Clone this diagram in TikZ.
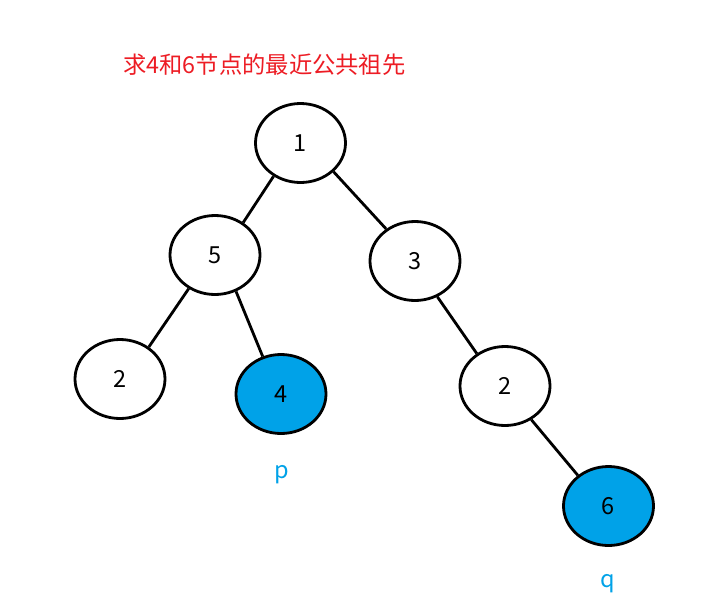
\documentclass[tikz,border=0pt]{standalone}
\usepackage{fontspec}
\setmainfont{Noto Sans CJK SC}
\usetikzlibrary{shapes.geometric}
\definecolor{paintred}{RGB}{237,28,36}
\definecolor{paintblue}{RGB}{0,162,232}
\begin{document}
\begin{tikzpicture}[x=1pt,y=-1pt,
  tnode/.style={ellipse,draw=black,line width=2.8pt,minimum width=90pt,minimum height=79pt,inner sep=0pt,font=\fontsize{23.5}{25}\selectfont,fill=white},
  hit/.style={tnode,fill=paintblue},
  edge/.style={draw=black,line width=2.8pt},
  lbl/.style={text=paintblue,font=\fontsize{23.5}{25}\selectfont}]
\useasboundingbox[fill=white] (0,0) rectangle (715,603);
\node[text=paintred,font=\fontsize{23.3}{25}\selectfont] (title) at (264.5,65) {求4和6节点的最近公共祖先};
\node[tnode] (n1) at (300.5,143) {1};
\node[tnode] (n5) at (215,255) {5};
\node[tnode] (n3) at (415,261) {3};
\node[tnode] (n2l) at (120,379) {2};
\node[hit] (n4) at (281,394) {4};
\node[tnode] (n2r) at (505,386) {2};
\node[hit] (n6) at (608.5,506) {6};
\node[lbl] (p) at (282,475) {p};
\node[lbl] (q) at (608,584) {q};
\draw[edge] (n1.231) -- (n5.49);
\draw[edge] (n1.319) -- (n3.132);
\draw[edge] (n5.232) -- (n2l.48);
\draw[edge] (n5.300) -- (n4.116);
\draw[edge] (n3.302) -- (n2r.131);
\draw[edge] (n2r.308) -- (n6.135);
\end{tikzpicture}
\end{document}
